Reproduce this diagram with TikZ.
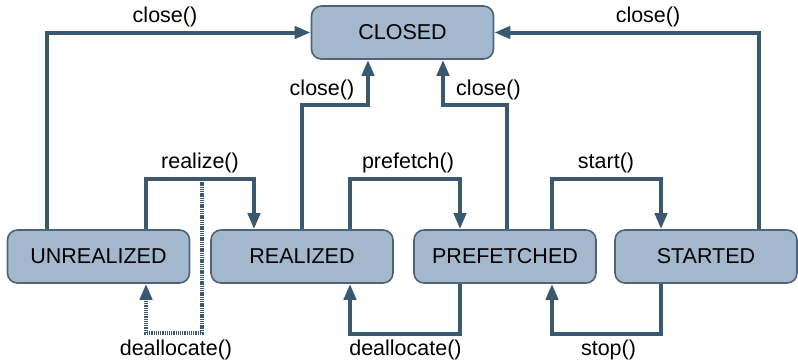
\documentclass[tikz,border=0pt]{standalone}
\usepackage{fontspec}
\setmainfont{Liberation Sans}
\usetikzlibrary{arrows.meta}

\definecolor{boxfill}{HTML}{A3B8CC}
\definecolor{boxline}{HTML}{4C6478}
\definecolor{linecol}{HTML}{3B5871}

\tikzset{
    state/.style={draw=boxline, fill=boxfill, line width=1.6pt, rounded corners=10pt,
        minimum width=182pt, minimum height=53pt, inner sep=0pt},
    trans/.style={draw=linecol, line width=4pt, -{Triangle[length=16pt,width=12pt]}},
    dealloc/.style={trans, dash pattern=on 1.3pt off 0.9pt},
    lbl/.style={inner sep=0pt}
}

\begin{document}
\begin{tikzpicture}[x=1pt,y=-1pt,font=\fontsize{21.5}{25}\selectfont]
    \useasboundingbox (0,0) rectangle (798,362);

    % states
    \node[state] (closed) at (402.5,32.5) {CLOSED};
    \node[state] (unreal) at (98.5,256.5) {UNREALIZED};
    \node[state] (real) at (302,256.5) {REALIZED};
    \node[state] (prefet) at (505,256.5) {PREFETCHED};
    \node[state] (started) at (706,256.5) {STARTED};

    % close() transitions
    \draw[trans] ([xshift=-51.5pt]unreal.north) |- (closed.west);
    \draw[trans] (real.north) -- ++(0,-124) -| ([xshift=-34.5pt]closed.south);
    \draw[trans] ([xshift=2pt]prefet.north) -- ++(0,-124) -| ([xshift=40.5pt]closed.south);
    \draw[trans] ([xshift=53pt]started.north) |- (closed.east);

    % forward transitions
    \draw[trans] ([xshift=47.5pt]unreal.north) -- ++(0,-50) -| ([xshift=-48pt]real.north);
    \draw[trans] ([xshift=48pt]real.north) -- ++(0,-50) -| ([xshift=-45pt]prefet.north);
    \draw[trans] ([xshift=47pt]prefet.north) -- ++(0,-50) -| ([xshift=-45pt]started.north);

    % backward transitions
    \draw[trans] ([xshift=-45pt]prefet.south) -- ++(0,50) -| ([xshift=48pt]real.south);
    \draw[trans] ([xshift=-45pt]started.south) -- ++(0,50) -| ([xshift=47pt]prefet.south);

    % deallocate() while realizing
    \coordinate (split) at (202,180);
    \draw[dealloc] (split) -- ++(0,153) -| ([xshift=47.5pt]unreal.south);

    % labels
    \node[lbl] (lclosea) at (165,17) {close()};
    \node[lbl] (lcloseb) at (322,90) {close()};
    \node[lbl] (lclosec) at (488.5,90) {close()};
    \node[lbl] (lclosed) at (648,17) {close()};
    \node[lbl] (lrealize) at (200,163) {realize()};
    \node[lbl] (lprefetch) at (408,163) {prefetch()};
    \node[lbl] (lstart) at (606,163) {start()};
    \node[lbl] (ldealloca) at (176,350) {deallocate()};
    \node[lbl] (ldeallocb) at (405.5,350) {deallocate()};
    \node[lbl] (lstop) at (608.5,350) {stop()};
\end{tikzpicture}
\end{document}
